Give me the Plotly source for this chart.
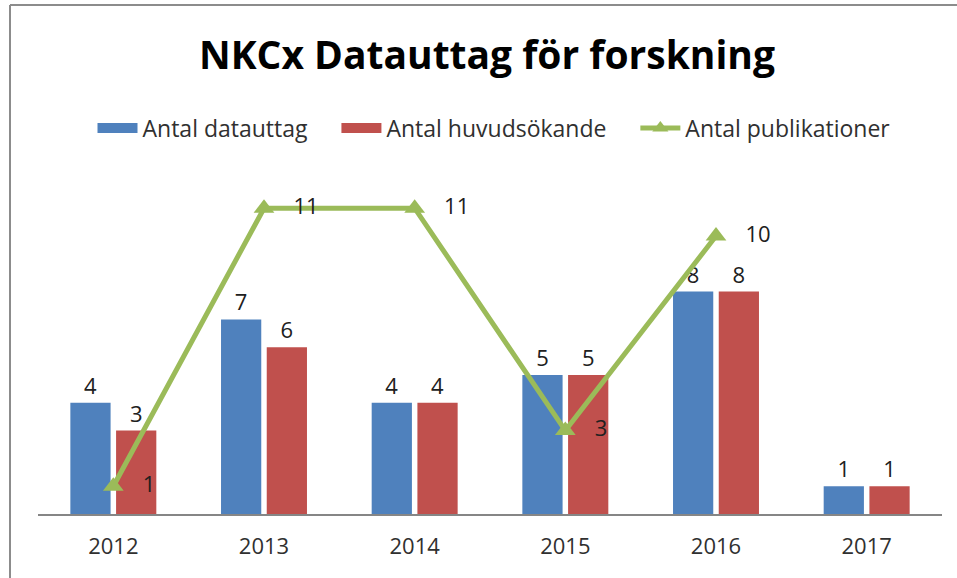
import plotly.graph_objects as go

years = ["2012", "2013", "2014", "2015", "2016", "2017"]
datauttag = [4, 7, 4, 5, 8, 1]
huvudsokande = [3, 6, 4, 5, 8, 1]
publikationer = [1, 11, 11, 3, 10, None]

W, H = 957, 578
ML, MR, MT, MB = 38, 15, 160, 64
plot_w = W - ML - MR
plot_h = H - MT - MB
px_per_unit = 27.8
ymax = plot_h / px_per_unit

BLUE, RED, GREEN = "#4F81BD", "#C0504D", "#9BBB59"
label_font = dict(family="Open Sans", size=22, color="#202020")

fig = go.Figure()
fig.add_trace(go.Bar(
    x=years, y=datauttag, name="Antal datauttag", showlegend=False,
    marker=dict(color=BLUE, line=dict(width=0)),
    text=datauttag, textposition="outside", textfont=label_font, cliponaxis=False,
))
fig.add_trace(go.Bar(
    x=years, y=huvudsokande, name="Antal huvudsökande", showlegend=False,
    marker=dict(color=RED, line=dict(width=0)),
    text=huvudsokande, textposition="outside", textfont=label_font, cliponaxis=False,
))
fig.add_trace(go.Scatter(
    x=years, y=publikationer, name="Antal publikationer", showlegend=False,
    mode="lines+markers+text",
    line=dict(color=GREEN, width=5),
    marker=dict(symbol="triangle-up", size=18, color=GREEN),
    text=["   " + str(v) if v is not None else "" for v in publikationer],
    textposition="middle right", textfont=label_font, cliponaxis=False,
))

# legend entries (wide swatches like the original)
pad = "&nbsp;&nbsp;&nbsp;&nbsp;"
fig.add_trace(go.Scatter(x=[None], y=[None], mode="lines", name="Antal datauttag" + pad,
                         line=dict(color=BLUE, width=11)))
fig.add_trace(go.Scatter(x=[None], y=[None], mode="lines", name="Antal huvudsökande" + pad,
                         line=dict(color=RED, width=11)))
fig.add_trace(go.Scatter(x=[None], y=[None], mode="lines+markers", name="Antal publikationer",
                         line=dict(color=GREEN, width=5),
                         marker=dict(symbol="triangle-up", size=14, color=GREEN)))

def px_x(p):
    return (p - ML) / plot_w

def px_y(p):
    return (H - MB - p) / plot_h

border = dict(color="#8C8C8C", width=2)
fig.add_shape(type="line", xref="paper", yref="paper",
              x0=px_x(10), x1=px_x(W), y0=px_y(5), y1=px_y(5), line=border)
fig.add_shape(type="line", xref="paper", yref="paper",
              x0=px_x(10), x1=px_x(10), y0=px_y(5), y1=px_y(H), line=border)

fig.update_layout(
    width=W, height=H,
    margin=dict(l=ML, r=MR, t=MT, b=MB),
    paper_bgcolor="white", plot_bgcolor="white",
    title=dict(text="<b>NKCx Datauttag för forskning</b>", x=487 / W, xanchor="center",
               y=1 - 55 / H, yanchor="middle",
               font=dict(family="Open Sans", size=39, color="#000000")),
    barmode="group", bargap=0.393, bargroupgap=0.12,
    showlegend=True,
    legend=dict(orientation="h", x=px_x(494), xanchor="center", y=px_y(128), yanchor="middle",
                font=dict(family="Open Sans", size=23, color="#303030"),
                traceorder="normal", itemwidth=40),
    xaxis=dict(type="category", showline=True, linecolor="#868686", linewidth=1.5,
               showgrid=False, ticks="", ticklabelstandoff=12,
               tickfont=dict(family="Open Sans", size=22, color="#303030")),
    yaxis=dict(range=[0, ymax], visible=False, showgrid=False, zeroline=False),
)

fig.write_html(
    "out.html", config={"displayModeBar": False},
    post_script=("document.body.style.margin='0';"
                 "document.body.style.overflow='hidden';"
                 "document.documentElement.style.overflow='hidden';"),
)
